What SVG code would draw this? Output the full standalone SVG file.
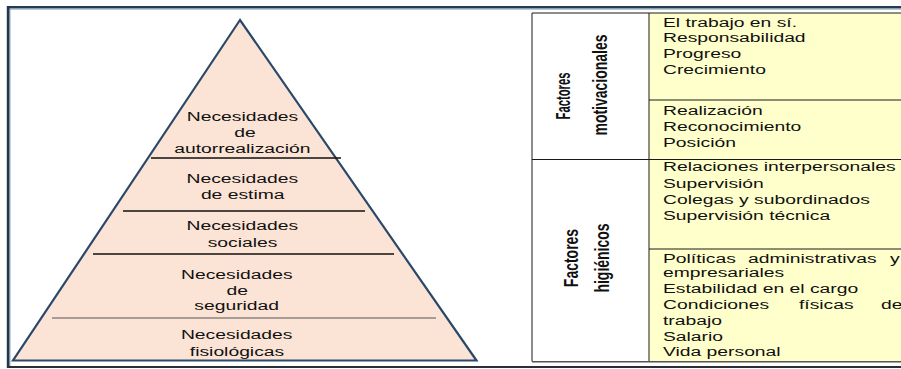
<svg xmlns="http://www.w3.org/2000/svg" width="901" height="369" viewBox="0 0 901 369">
<style>
  text { font-family: "Liberation Sans", Arial, sans-serif; fill: #111; }
  .p { font-size: 13.5px; text-anchor: middle; }
  .t { font-size: 13.5px; }
  .v { font-size: 14px; font-weight: bold; text-anchor: middle; }
  .tl { stroke: #1a1a1a; stroke-width: 1; fill: none; }
  .lv { stroke: #111; stroke-width: 1.6; }
</style>
<rect x="0" y="0" width="901" height="369" fill="#ffffff"/>
<g id="frame">
  <line x1="7" y1="7.2" x2="901" y2="7.2" stroke="#233d56" stroke-width="2.6"/>
  <line x1="7" y1="9.4" x2="901" y2="9.4" stroke="#9fb2c4" stroke-width="0.8"/>
  <line x1="8.2" y1="6" x2="8.2" y2="368" stroke="#1f364c" stroke-width="2.8"/>
  <line x1="10" y1="9" x2="10" y2="366" stroke="#7f97ae" stroke-width="0.8"/>
  <line x1="7" y1="367" x2="901" y2="367" stroke="#2a2f35" stroke-width="2"/>
</g>
<g id="pyramid">
  <polygon points="240,20 13,360.5 476.5,360.5" fill="#fbe4d6" stroke="#2c4868" stroke-width="2.2" stroke-linejoin="miter"/>
  <line class="lv" x1="151" y1="158" x2="341" y2="158"/>
  <line class="lv" x1="123" y1="211" x2="365" y2="211"/>
  <line class="lv" x1="93" y1="254" x2="394" y2="254"/>
  <line x1="52" y1="318" x2="436" y2="318" stroke="#555" stroke-width="1"/>
</g>
<g id="level-autorrealizacion">
  <text class="p" transform="matrix(1.43 0 0 1 242.5 120.7)">Necesidades</text>
  <text class="p" transform="matrix(1.43 0 0 1 245 136.7)">de</text>
  <text class="p" transform="matrix(1.43 0 0 1 242.3 152.5)">autorrealización</text>
</g>
<g id="level-estima">
  <text class="p" transform="matrix(1.43 0 0 1 242.3 182.7)">Necesidades</text>
  <text class="p" transform="matrix(1.43 0 0 1 242.7 199.3)">de estima</text>
</g>
<g id="level-sociales">
  <text class="p" transform="matrix(1.43 0 0 1 242.3 230)">Necesidades</text>
  <text class="p" transform="matrix(1.43 0 0 1 242.5 246.7)">sociales</text>
</g>
<g id="level-seguridad">
  <text class="p" transform="matrix(1.43 0 0 1 236.8 278.7)">Necesidades</text>
  <text class="p" transform="matrix(1.43 0 0 1 237.3 294.7)">de</text>
  <text class="p" transform="matrix(1.43 0 0 1 236.7 310.3)">seguridad</text>
</g>
<g id="level-fisiologicas">
  <text class="p" transform="matrix(1.43 0 0 1 236.7 339.3)">Necesidades</text>
  <text class="p" transform="matrix(1.43 0 0 1 237 356)">fisiológicas</text>
</g>
<g id="table">
  <rect x="649" y="13" width="260" height="348.5" fill="#ffffcc"/>
  <line class="tl" x1="532" y1="13" x2="901" y2="13"/>
  <line class="tl" x1="532" y1="13" x2="532" y2="361.5"/>
  <line class="tl" x1="649" y1="13" x2="649" y2="361.5"/>
  <line class="tl" x1="649" y1="100" x2="901" y2="100"/>
  <line class="tl" x1="532" y1="159.5" x2="901" y2="159.5"/>
  <line class="tl" x1="649" y1="249" x2="901" y2="249"/>
  <line x1="532" y1="361.8" x2="901" y2="361.8" stroke="#555" stroke-width="1.4"/>
</g>
<g id="factores-motivacionales">
  <text class="v" transform="translate(570,96) scale(1.45,1) rotate(-90)" textLength="47" lengthAdjust="spacingAndGlyphs">Factores</text>
  <text class="v" transform="translate(607,85) scale(1.45,1) rotate(-90)">motivacionales</text>
  <g transform="matrix(1.43 0 0 1 663 0)">
    <text class="t" x="0" y="26.7">El trabajo en sí.</text>
    <text class="t" x="0" y="42.5">Responsabilidad</text>
    <text class="t" x="0" y="58.3">Progreso</text>
    <text class="t" x="0" y="74">Crecimiento</text>
    <text class="t" x="0" y="115">Realización</text>
    <text class="t" x="0" y="130.8">Reconocimiento</text>
    <text class="t" x="0" y="146.7">Posición</text>
  </g>
</g>
<g id="factores-higienicos">
  <text class="v" transform="translate(578,258) scale(1.45,1) rotate(-90)">Factores</text>
  <text class="v" transform="translate(608.5,258) scale(1.45,1) rotate(-90)">higiénicos</text>
  <g transform="matrix(1.43 0 0 1 663 0)">
    <text class="t" x="0" y="170.8">Relaciones interpersonales</text>
    <text class="t" x="0" y="188.3">Supervisión</text>
    <text class="t" x="0" y="204.3">Colegas y subordinados</text>
    <text class="t" x="0" y="220">Supervisión técnica</text>
    <text class="t" x="0" y="262.7">Políticas</text>
    <text class="t" x="59.4" y="262.7">administrativas</text>
    <text class="t" x="158.7" y="262.7">y</text>
    <text class="t" x="0" y="277.5">empresariales</text>
    <text class="t" x="0" y="293.3">Estabilidad en el cargo</text>
    <text class="t" x="0" y="309.3">Condiciones</text>
    <text class="t" x="95.1" y="309.3">físicas</text>
    <text class="t" x="152.4" y="309.3">de</text>
    <text class="t" x="0" y="325">trabajo</text>
    <text class="t" x="0" y="340.7">Salario</text>
    <text class="t" x="0" y="356">Vida personal</text>
  </g>
</g>
</svg>
